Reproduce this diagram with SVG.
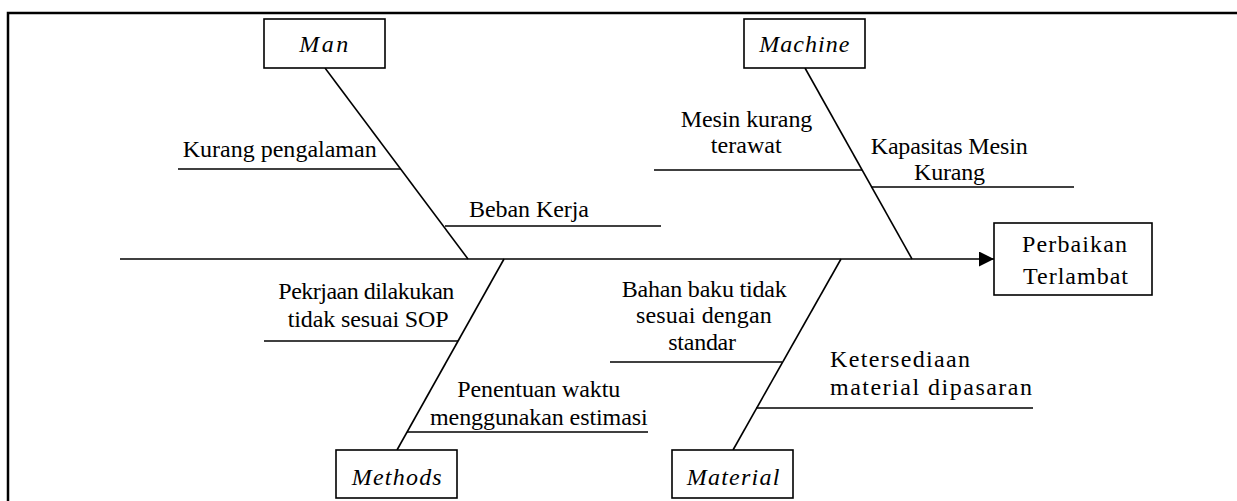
<svg xmlns="http://www.w3.org/2000/svg" width="1237" height="501" viewBox="0 0 1237 501">
<style>
.box{fill:#fff;stroke:#000;stroke-width:1.6}
.ln{stroke:#000;stroke-width:1.6;fill:none}
.t{font-family:"Liberation Serif","Times New Roman",serif;font-size:24px;fill:#000}
.i{font-style:italic}
</style>
<defs>
<marker id="arr" markerUnits="userSpaceOnUse" markerWidth="16" markerHeight="16" refX="15" refY="7.5" orient="auto">
<path d="M0,0 L15,7.5 L0,15 Z" fill="#000"/>
</marker>
</defs>
<rect x="8" y="13" width="1240" height="500" fill="none" stroke="#000" stroke-width="2.5"/>
<g id="connectors">
<line class="ln" x1="120" y1="259" x2="994" y2="259" marker-end="url(#arr)"/>
<line class="ln" x1="325" y1="68" x2="468" y2="259"/>
<line class="ln" x1="805" y1="68" x2="912" y2="259"/>
<line class="ln" x1="397" y1="450" x2="504" y2="259"/>
<line class="ln" x1="733" y1="450" x2="841" y2="259"/>
<line class="ln" x1="178" y1="169" x2="401" y2="169"/>
<line class="ln" x1="445" y1="226" x2="661" y2="226"/>
<line class="ln" x1="654" y1="170" x2="862" y2="170"/>
<line class="ln" x1="871" y1="187" x2="1074" y2="187"/>
<line class="ln" x1="264" y1="341" x2="458" y2="341"/>
<line class="ln" x1="407" y1="432" x2="648" y2="432"/>
<line class="ln" x1="610" y1="362" x2="782" y2="362"/>
<line class="ln" x1="756" y1="408" x2="1033" y2="408"/>
</g>
<g id="man">
<rect class="box" x="264" y="19" width="121" height="49"/>
<text class="t i" x="299.3" y="51.7" textLength="49" lengthAdjust="spacing">Man</text>
</g>
<g id="machine">
<rect class="box" x="744" y="19" width="121" height="49"/>
<text class="t i" x="759.3" y="51.7" textLength="90" lengthAdjust="spacing">Machine</text>
</g>
<g id="methods">
<rect class="box" x="336" y="450" width="121" height="48"/>
<text class="t i" x="351.7" y="485" textLength="90" lengthAdjust="spacing">Methods</text>
</g>
<g id="material">
<rect class="box" x="672" y="450" width="121" height="48"/>
<text class="t i" x="686.7" y="485" textLength="92.6" lengthAdjust="spacing">Material</text>
</g>
<g id="effect">
<rect class="box" x="994" y="223" width="158" height="72"/>
<text class="t" x="1022" y="252" textLength="105" lengthAdjust="spacing">Perbaikan</text>
<text class="t" x="1023" y="284" textLength="105" lengthAdjust="spacing">Terlambat</text>
</g>
<g id="cause-kurang-pengalaman">
<text class="t" x="182.7" y="156.7" textLength="194" lengthAdjust="spacing">Kurang pengalaman</text>
</g>
<g id="cause-beban-kerja">
<text class="t" x="469" y="216.5" textLength="120" lengthAdjust="spacing">Beban Kerja</text>
</g>
<g id="cause-mesin-kurang-terawat">
<text class="t" x="680.7" y="126.7" textLength="131.6" lengthAdjust="spacing">Mesin kurang</text>
<text class="t" x="710.7" y="153.3" textLength="71" lengthAdjust="spacing">terawat</text>
</g>
<g id="cause-kapasitas">
<text class="t" x="870.7" y="154" textLength="157" lengthAdjust="spacing">Kapasitas Mesin</text>
<text class="t" x="914" y="180" textLength="71" lengthAdjust="spacing">Kurang</text>
</g>
<g id="cause-sop">
<text class="t" x="278.3" y="299.3" textLength="176" lengthAdjust="spacing">Pekrjaan dilakukan</text>
<text class="t" x="287.7" y="326.7" textLength="161" lengthAdjust="spacing">tidak sesuai SOP</text>
</g>
<g id="cause-estimasi">
<text class="t" x="457.3" y="396.7" textLength="163" lengthAdjust="spacing">Penentuan waktu</text>
<text class="t" x="430" y="425" textLength="217.7" lengthAdjust="spacing">menggunakan estimasi</text>
</g>
<g id="cause-bahan-baku">
<text class="t" x="621.7" y="296.7" textLength="165" lengthAdjust="spacing">Bahan baku tidak</text>
<text class="t" x="636" y="323.3" textLength="135.7" lengthAdjust="spacing">sesuai dengan</text>
<text class="t" x="668.3" y="350" textLength="67.7" lengthAdjust="spacing">standar</text>
</g>
<g id="cause-ketersediaan">
<text class="t" x="830" y="366.7" textLength="140" lengthAdjust="spacing">Ketersediaan</text>
<text class="t" x="830" y="395" textLength="202" lengthAdjust="spacing">material dipasaran</text>
</g>
</svg>
